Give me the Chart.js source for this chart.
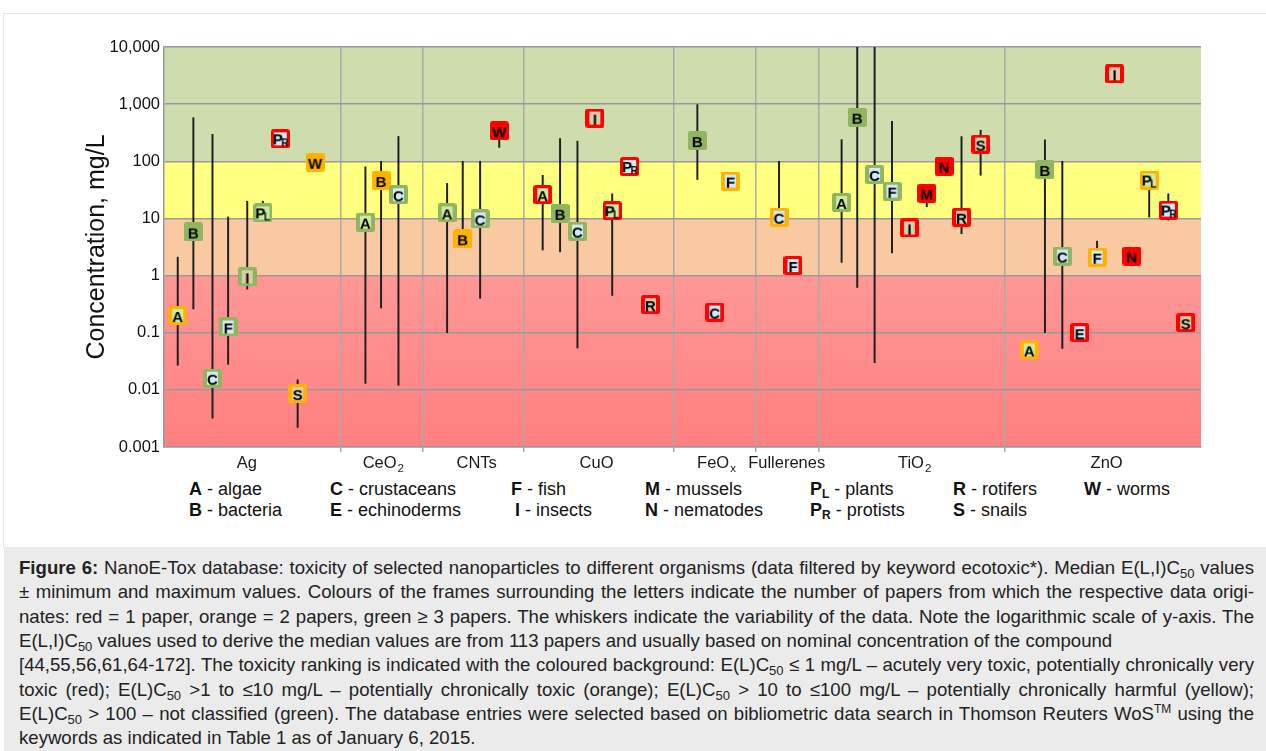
<!DOCTYPE html>
<html><head><meta charset="utf-8">
<script src="https://cdn.jsdelivr.net/npm/chart.js@4.4.1/dist/chart.umd.min.js"></script>
<style>
html,body{margin:0;padding:0;background:#fff;width:1266px;height:751px;overflow:hidden;font-family:"Liberation Sans",Arial,sans-serif;}
#frame{position:absolute;left:3px;top:13px;width:1263px;height:534px;border-top:1px solid #e6e6e6;border-left:1px solid #e6e6e6;}
#chartwrap{position:absolute;left:0;top:0;width:1266px;height:475px;}
.leg{position:absolute;font-size:18px;line-height:20px;color:#111;white-space:nowrap;}
.leg sub{font-size:12px;vertical-align:-3px;line-height:0;font-weight:bold;}
#caption{position:absolute;left:4px;top:547px;width:1262px;height:204px;background:#ebebeb;}
.cl{position:absolute;left:15px;width:1235px;font-size:18.6px;line-height:24.3px;color:#222;white-space:nowrap;}
.j{text-align:justify;text-align-last:justify;}
.cl sub{font-size:13px;vertical-align:-4px;line-height:0;}
.cl sup{font-size:12px;vertical-align:7px;line-height:0;}
</style></head>
<body>
<div id="frame"></div>
<div id="chartwrap"><canvas id="c" width="1266" height="475"></canvas></div>

<div class="leg" style="left:189px;top:479px"><b>A</b> - algae</div>
<div class="leg" style="left:330px;top:479px"><b>C</b> - crustaceans</div>
<div class="leg" style="left:511px;top:479px"><b>F</b> - fish</div>
<div class="leg" style="left:645px;top:479px"><b>M</b> - mussels</div>
<div class="leg" style="left:810px;top:479px"><b>P<sub>L</sub></b> - plants</div>
<div class="leg" style="left:953px;top:479px"><b>R</b> - rotifers</div>
<div class="leg" style="left:1084px;top:479px"><b>W</b> - worms</div>
<div class="leg" style="left:189px;top:500px"><b>B</b> - bacteria</div>
<div class="leg" style="left:330px;top:500px"><b>E</b> - echinoderms</div>
<div class="leg" style="left:515px;top:500px"><b>I</b> - insects</div>
<div class="leg" style="left:645px;top:500px"><b>N</b> - nematodes</div>
<div class="leg" style="left:810px;top:500px"><b>P<sub>R</sub></b> - protists</div>
<div class="leg" style="left:953px;top:500px"><b>S</b> - snails</div>

<div id="caption">
<div class="cl j" style="top:9px"><b>Figure 6:</b> NanoE-Tox database: toxicity of selected nanoparticles to different organisms (data filtered by keyword ecotoxic*). Median E(L,I)C<sub>50</sub> values</div>
<div class="cl j" style="top:33.3px">± minimum and maximum values. Colours of the frames surrounding the letters indicate the number of papers from which the respective data origi-</div>
<div class="cl j" style="top:57.6px">nates: red = 1 paper, orange = 2 papers, green ≥ 3 papers. The whiskers indicate the variability of the data. Note the logarithmic scale of y-axis. The</div>
<div class="cl" style="top:81.9px">E(L,I)C<sub>50</sub> values used to derive the median values are from 113 papers and usually based on nominal concentration of the compound</div>
<div class="cl j" style="top:106.2px">[44,55,56,61,64-172]. The toxicity ranking is indicated with the coloured background: E(L)C<sub>50</sub> ≤ 1 mg/L – acutely very toxic, potentially chronically very</div>
<div class="cl j" style="top:130.5px">toxic (red); E(L)C<sub>50</sub> &gt;1 to ≤10 mg/L – potentially chronically toxic (orange); E(L)C<sub>50</sub> &gt; 10 to ≤100 mg/L – potentially chronically harmful (yellow);</div>
<div class="cl j" style="top:154.8px">E(L)C<sub>50</sub> &gt; 100 – not classified (green). The database entries were selected based on bibliometric data search in Thomson Reuters WoS<sup>TM</sup> using the</div>
<div class="cl" style="top:179.1px">keywords as indicated in Table 1 as of January 6, 2015.</div>
</div>

<script>
// ---- data ----
const categoryBase = ['Ag','CeO','CNTs','CuO','FeO','Fullerenes','TiO','ZnO'];
const categorySub  = ['','2','','','x','','2',''];
const categoryLabelPos = [3.97, 11.83, 17.2, 24.1, 31.0, 35.04, 42.4, 53.45];
const categoryDividers = [9.4, 14.11, 19.89, 28.56, 33.26, 36.9, 47.58];

const organism = ['A','B','C','F','I','PL','PR','S','W',
  'A','B','C',
  'A','B','C','W',
  'A','B','C','I','PL','PR','R',
  'B','C','F',
  'C','F',
  'A','B','C','F','I','M','N','R','S',
  'A','B','C','E','F','I','N','PL','PR','S'];
const position = [0.0,0.9,2.0,2.9,4.0,4.9,5.9,6.9,7.9,
  10.8,11.7,12.7,
  15.5,16.4,17.4,18.5,
  21.0,22.0,23.0,24.0,25.0,26.0,27.2,
  29.9,30.9,31.8,
  34.6,35.4,
  38.2,39.1,40.1,41.1,42.1,43.1,44.1,45.1,46.2,
  49.0,49.9,50.9,51.9,52.9,53.9,54.9,55.9,57.0,58.0];
const median = [0.2,5.8,0.016,0.126,0.95,12.5,247,0.0086,96,
  8.6,46,26,
  12.5,4.4,9.8,340,
  26,12.3,6.0,570,13.6,81,0.31,
  230,0.23,45,
  10.5,1.5,
  19,590,59,30,6.8,27.6,82,10.5,200,
  0.05,72,2.2,0.10,2.1,3400,2.2,47,14,0.15];
const whiskerMin = [0.027,0.26,0.0032,0.028,0.58,12.5,null,0.0022,null,
  0.013,0.27,0.012,
  0.10,4.4,0.40,175,
  2.8,2.6,0.054,null,0.45,null,null,
  48,null,null,
  10.5,null,
  1.7,0.62,0.03,2.5,null,16,null,5.4,57,
  null,0.10,0.053,null,2.1,null,null,10.6,9.3,null];
const whiskerMax = [2.1,580,295,10.6,20,20,null,0.015,null,
  80,100,272,
  41,100,100,400,
  57,250,225,null,27,null,null,
  980,null,null,
  100,null,
  240,10000,10000,500,null,27.6,null,270,350,
  null,237,100,null,4.0,null,null,47,27,null];
const papers = [2,3,3,3,3,3,1,2,2,
  3,2,3,
  3,2,3,1,
  1,3,3,1,1,1,1,
  3,1,2,
  2,1,
  3,3,3,3,1,1,1,1,1,
  2,3,3,1,2,1,1,2,1,1];

const yTicks = [0.001,0.01,0.1,1,10,100,1000,10000];
const yTickLabels = ['0.001','0.01','0.1','1','10','100','1,000','10,000'];
const bandLimits = [0.001,1,10,100,10000];

// ---- styles ----
const FONT = '"Liberation Sans", Arial, sans-serif';
const frameColors = ['#ff0000','#ffb300','#8fb55e'];
const tints = {A:'#cdeaa4',C:'#cfeaf6',E:'#cfeaf6',F:'#cfeaf6',I:'#dacda8',PL:'#cdeaa4',PR:'#cfeaf6',R:'#dacda8',S:'#dacda8'};
const bandColors = [null,'#f9caa2','#ffff80','#cfdcae'];

function makeMarker(org, p){
  const S = 19;
  const c = document.createElement('canvas'); c.width = S; c.height = S;
  const g = c.getContext('2d');
  g.fillStyle = frameColors[p-1];
  g.beginPath(); g.roundRect(0,0,S,S,2.5); g.fill();
  if (tints[org]) { g.fillStyle = tints[org]; g.fillRect(org.length>1?3:4,3,org.length>1?13:11,13); }
  g.fillStyle = '#000';
  g.textBaseline = 'alphabetic';
  if (org.length > 1) {
    g.font = 'bold 15px ' + FONT; g.textAlign = 'left';
    g.fillText('P', 2, 15);
    g.font = 'bold 10px ' + FONT;
    g.fillText(org[1], 10.5, 17);
  } else {
    g.font = 'bold 15px ' + FONT; g.textAlign = 'center';
    g.fillText(org, S/2, 15.5);
  }
  return c;
}
const markerImages = organism.map((o,i)=>makeMarker(o, papers[i]));

const markerData = position.map((x,i)=>({x:x, y:median[i]}));
const whiskerData = [];
position.forEach((x,i)=>{ if (whiskerMin[i]!==null) whiskerData.push({x:x, y:[whiskerMin[i], whiskerMax[i]]}); });

const bandsPlugin = {
  id:'bands',
  beforeDraw(chart){
    const {ctx, chartArea:a, scales:{y}} = chart;
    ctx.save();
    for (let i=0;i<bandLimits.length-1;i++){
      const top = y.getPixelForValue(bandLimits[i+1]);
      const bot = y.getPixelForValue(bandLimits[i]);
      if (i===0){
        const gr = ctx.createLinearGradient(0,top,0,bot);
        gr.addColorStop(0,'#ff9797'); gr.addColorStop(1,'#ff7f7f');
        ctx.fillStyle = gr;
      } else ctx.fillStyle = bandColors[i];
      ctx.fillRect(a.left, top, a.right-a.left, bot-top);
    }
    ctx.restore();
  }
};
const catLabelPlugin = {
  id:'catLabels',
  afterDraw(chart){
    const {ctx, scales:{x, y}} = chart;
    ctx.save();
    ctx.fillStyle = '#1a1a1a';
    ctx.textBaseline = 'alphabetic'; ctx.textAlign = 'left';
    const baseY = y.bottom + 20.5;
    categoryBase.forEach((b,i)=>{
      ctx.font = '16.5px ' + FONT;
      const w1 = ctx.measureText(b).width;
      ctx.font = '11.5px ' + FONT;
      const w2 = categorySub[i] ? ctx.measureText(categorySub[i]).width + 1 : 0;
      const cx = x.getPixelForValue(categoryLabelPos[i]);
      const left = cx - (w1+w2)/2;
      ctx.font = '16.5px ' + FONT;
      ctx.fillText(b, left, baseY);
      if (categorySub[i]) { ctx.font = '11.5px ' + FONT; ctx.fillText(categorySub[i], left + w1 + 1, baseY + 4); }
    });
    ctx.restore();
  }
};

new Chart(document.getElementById('c'), {
  type:'scatter',
  data:{datasets:[
    {type:'scatter', label:'median', data:markerData, order:0,
     pointStyle:(ctx)=>markerImages[ctx.dataIndex], pointRadius:5, pointHoverRadius:5},
    {type:'bar', label:'range', data:whiskerData, order:1,
     backgroundColor:'#1e1e1e', borderWidth:0, barThickness:1.3, grouped:false}
  ]},
  options:{
    responsive:false, animation:false, events:[],
    layout:{padding:{top:47,right:65,left:0,bottom:0}},
    plugins:{legend:{display:false}, tooltip:{enabled:false}},
    scales:{
      x:{type:'linear', min:-0.79, max:58.88, offset:false,
         afterBuildTicks:(s)=>{ s.ticks = categoryDividers.map(v=>({value:v})); },
         afterFit:(s)=>{ s.height = 28; },
         ticks:{callback:()=>'', autoSkip:false},
         grid:{offset:false, color:'#a9a9a9', lineWidth:1.5, tickLength:5, drawTicks:true},
         border:{display:true, color:'#9a9a9a', width:1.5}},
      y:{type:'logarithmic', min:0.001, max:10000,
         afterBuildTicks:(s)=>{ s.ticks = yTicks.map(v=>({value:v})); },
         afterFit:(s)=>{ s.width = 164; },
         ticks:{callback:(v,i)=>yTickLabels[i], autoSkip:false, padding:4, color:'#111', font:{family:FONT, size:16.5}},
         grid:{color:'#999999', lineWidth:1.5, drawTicks:false},
         border:{display:true, color:'#9a9a9a', width:1.5},
         title:{display:true, text:'Concentration, mg/L', color:'#111', font:{family:FONT, size:25}, padding:{top:82,bottom:0}}}
    }
  },
  plugins:[bandsPlugin, catLabelPlugin]
});
</script>
</body></html>
